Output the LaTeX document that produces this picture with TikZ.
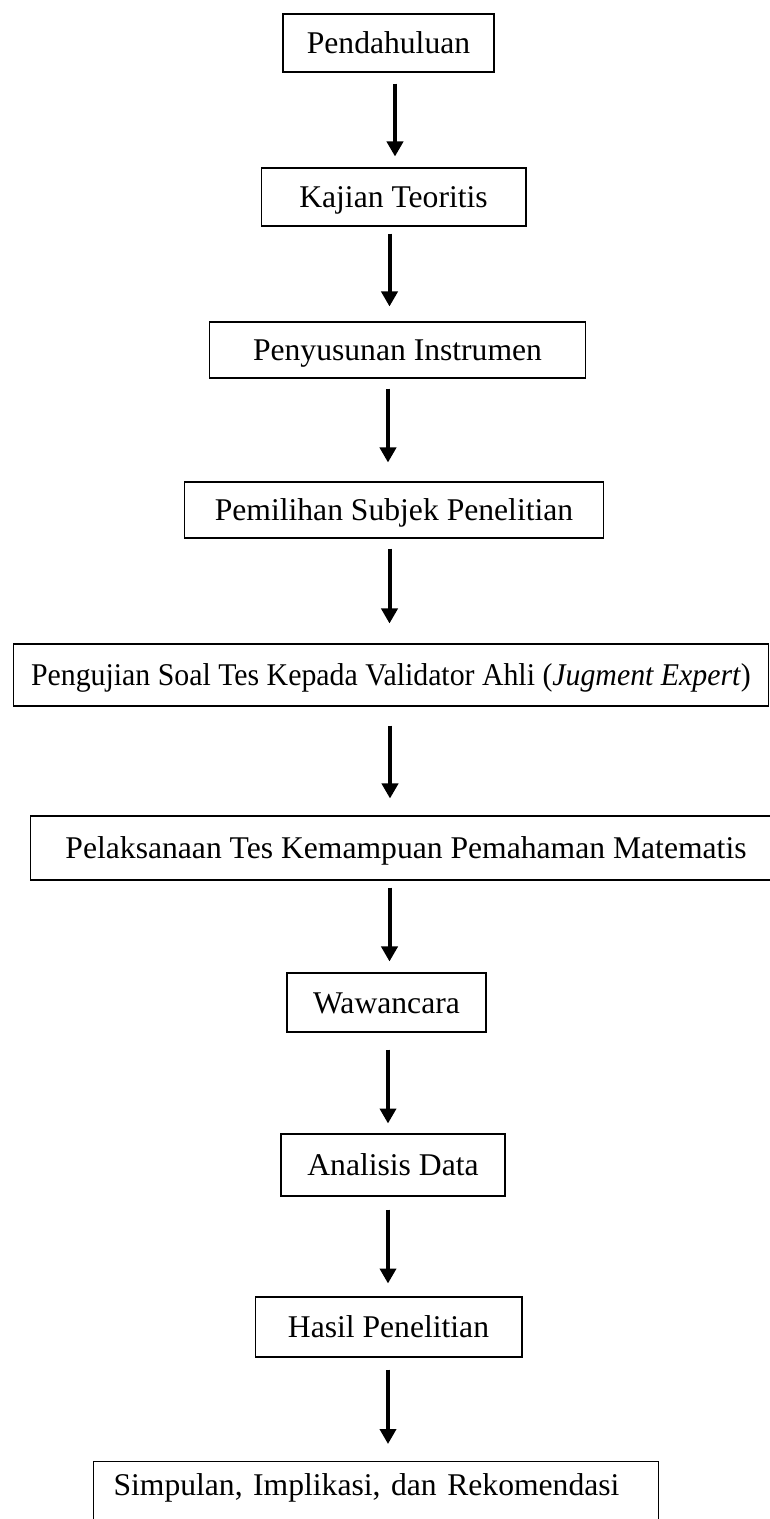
\documentclass[tikz,border=0pt]{standalone}
\usepackage{fontspec}
\setmainfont{Liberation Serif}
\usetikzlibrary{arrows.meta}
\tikzset{
  stepbox/.style={
    draw,
    line width=0.6pt,
    inner sep=0pt,
    text height=0.42cm,
    text depth=0pt,
    font=\fontsize{18pt}{21.6pt}\selectfont
  },
  lastbox/.style={
    draw,
    line width=0.6pt,
    anchor=north west,
    inner xsep=0.4cm,
    inner ysep=0.26cm,
    text width=10.5cm,
    align=left,
    text height=0.42cm,
    text depth=0.46cm,
    font=\fontsize{18pt}{21.6pt}\selectfont
  },
  flowarrow/.style={
    line width=0.08cm,
    -{Triangle[width=0.32cm,length=0.3cm]}
  }
}
\begin{document}
\begin{tikzpicture}[x=0.02cm,y=-0.02cm]
  \useasboundingbox (0,0) rectangle (770,1519);
  \node[stepbox,minimum width=4.22cm,minimum height=1.16cm] (b1) at (388.5,43) {Pendahuluan};
  \node[stepbox,minimum width=5.30cm,minimum height=1.16cm] (b2) at (393.5,197) {Kajian Teoritis};
  \node[stepbox,minimum width=7.54cm,minimum height=1.12cm] (b3) at (397.5,350) {Penyusunan Instrumen};
  \node[stepbox,minimum width=8.40cm,minimum height=1.12cm] (b4) at (394,510) {Pemilihan Subjek Penelitian};
  \node[stepbox,minimum width=15.12cm,minimum height=1.24cm] (b5) at (391,675)
    {\scalebox{0.943}[1]{Pengujian Soal Tes Kepada Validator Ahli (\textit{Jugment Expert})}};
  \node[stepbox,minimum width=15.04cm,minimum height=1.28cm] (b6) at (406,848)
    {Pelaksanaan Tes Kemampuan Pemahaman Matematis};
  \node[stepbox,minimum width=3.98cm,minimum height=1.18cm] (b7) at (386.5,1002.5) {Wawancara};
  \node[stepbox,minimum width=4.48cm,minimum height=1.24cm] (b8) at (393,1165) {Analisis Data};
  \node[stepbox,minimum width=5.34cm,minimum height=1.20cm] (b9) at (388.5,1327) {Hasil Penelitian};
  \node[lastbox] (b10) at (93,1461) {Simpulan, Implikasi, dan Rekomendasi};
  % arrows between the steps
  \foreach \from/\to/\x/\s/\e in {b1/b2/395/0.22cm/0.22cm, b2/b3/389.5/0.14cm/0.30cm,
      b3/b4/388/0.20cm/0.38cm, b4/b5/389.5/0.20cm/0.40cm, b5/b6/390/0.38cm/0.34cm,
      b6/b7/389.5/0.14cm/0.22cm, b7/b8/388/0.34cm/0.20cm, b8/b9/388/0.26cm/0.26cm,
      b9/b10/388/0.24cm/0.34cm}{
    \draw[flowarrow,shorten <=\s,shorten >=\e] (\x,0 |- \from.south) -- (\x,0 |- \to.north);
  }
\end{tikzpicture}
\end{document}
